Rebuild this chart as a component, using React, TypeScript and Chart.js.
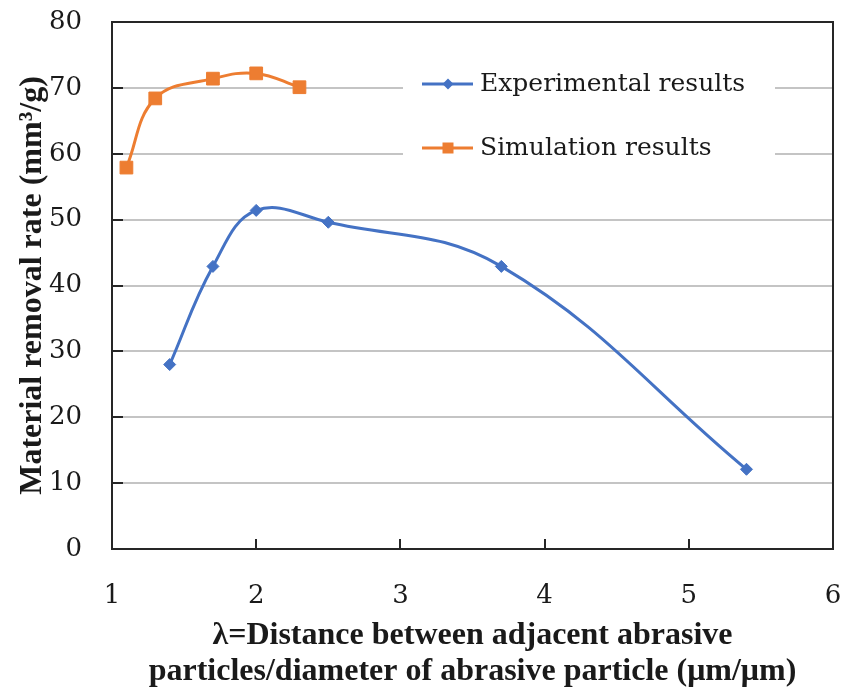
import { useEffect, useRef } from "react";
import { Chart, registerables } from "chart.js";
Chart.register(...registerables);

const expX = [1.4, 1.7, 2.0, 2.5, 3.7, 5.4];
const expY = [28.0, 42.9, 51.4, 49.6, 42.9, 12.1];
const simX = [1.1, 1.3, 1.7, 2.0, 2.3];
const simY = [57.9, 68.4, 71.4, 72.2, 70.1];
const seriesNames = ["Experimental results", "Simulation results"];
const xTickValues = [1, 2, 3, 4, 5, 6];
const yTickValues = [0, 10, 20, 30, 40, 50, 60, 70, 80];
const yTitle = "Material removal rate (mm³/g)";
const xTitle = ["λ=Distance between adjacent abrasive", "particles/diameter of abrasive particle (μm/μm)"];

const BLUE = "#4472C4";
const ORANGE = "#ED7D31";
const AXIS = "#262626";
const TEXT = "#1a1a1a";
const FONT = "'Liberation Serif', 'Times New Roman', serif";
const FONT2 = "'DejaVu Serif', serif";

const framePlugin = {
  id: "frame",
  afterDatasetsDraw(chart: any) {
    const { ctx, chartArea: a, scales } = chart;
    ctx.save();
    ctx.strokeStyle = AXIS;
    ctx.lineWidth = 2;
    ctx.beginPath();
    ctx.moveTo(a.left, a.top);
    ctx.lineTo(a.right, a.top);
    ctx.lineTo(a.right, a.bottom);
    ctx.stroke();
    ctx.beginPath();
    xTickValues.slice(1, -1).forEach((v) => {
      const px = Math.round(scales.x.getPixelForValue(v));
      ctx.moveTo(px, a.bottom);
      ctx.lineTo(px, a.bottom - 10);
    });
    yTickValues.slice(1, -1).forEach((v) => {
      const py = Math.round(scales.y.getPixelForValue(v));
      ctx.moveTo(a.left, py);
      ctx.lineTo(a.left + 11, py);
    });
    ctx.stroke();

    // legend
    const bx0 = a.left + 291;
    const bx1 = a.left + 663;
    ctx.fillStyle = "#ffffff";
    ctx.fillRect(bx0, a.top + 36, bx1 - bx0, 120);
    const rows = [a.top + 62, a.top + 126];
    const colors = [BLUE, ORANGE];
    rows.forEach((ry, i) => {
      ctx.strokeStyle = colors[i];
      ctx.fillStyle = colors[i];
      ctx.lineWidth = 3;
      ctx.beginPath();
      ctx.moveTo(a.left + 310, ry);
      ctx.lineTo(a.left + 361, ry);
      ctx.stroke();
      const cx = a.left + 336;
      ctx.beginPath();
      if (i === 0) {
        ctx.moveTo(cx, ry - 5.5);
        ctx.lineTo(cx + 5.5, ry);
        ctx.lineTo(cx, ry + 5.5);
        ctx.lineTo(cx - 5.5, ry);
        ctx.closePath();
      } else {
        ctx.rect(cx - 5.5, ry - 5.5, 11, 11);
      }
      ctx.fill();
      ctx.fillStyle = TEXT;
      ctx.font = `25px ${FONT2}`;
      ctx.textBaseline = "middle";
      ctx.textAlign = "left";
      ctx.fillText(seriesNames[i], a.left + 368, ry);
    });
    ctx.restore();
  },
};

export default function App() {
  const ref = useRef<HTMLCanvasElement>(null);
  useEffect(() => {
    if (!ref.current) return;
    const chart = new Chart(ref.current, {
      type: "line",
      data: {
        datasets: [
          {
            label: seriesNames[0],
            data: expX.map((x, i) => ({ x, y: expY[i] })),
            borderColor: BLUE,
            backgroundColor: BLUE,
            borderWidth: 3,
            pointStyle: "rectRot",
            pointRadius: 6,
            pointBorderWidth: 1,
            tension: 0.4,
          },
          {
            label: seriesNames[1],
            data: simX.map((x, i) => ({ x, y: simY[i] })),
            borderColor: ORANGE,
            backgroundColor: ORANGE,
            borderWidth: 3,
            pointStyle: "rect",
            pointRadius: 9,
            pointBorderWidth: 1,
            tension: 0.4,
          },
        ],
      },
      options: {
        animation: false,
        responsive: false,
        layout: { padding: { left: 0, right: 12, top: 22, bottom: 0 } },
        plugins: { legend: { display: false }, tooltip: { enabled: false } },
        scales: {
          x: {
            type: "linear",
            min: 1,
            max: 6,
            afterBuildTicks: (s: any) => {
              s.ticks = xTickValues.map((v) => ({ value: v }));
            },
            afterFit: (s: any) => {
              s.height = 142;
              s.paddingLeft = 0;
              s.paddingRight = 0;
            },
            grid: { display: false, drawTicks: false },
            border: { display: true, color: AXIS, width: 2 },
            ticks: { color: TEXT, font: { family: FONT2, size: 26 }, padding: 32 },
            title: {
              display: true,
              text: xTitle,
              color: TEXT,
              font: { family: FONT, size: 32, weight: "bold", lineHeight: 1.1 },
              padding: { top: 0, bottom: 2 },
            },
          },
          y: {
            type: "linear",
            min: 0,
            max: 80,
            afterBuildTicks: (s: any) => {
              s.ticks = yTickValues.map((v) => ({ value: v }));
            },
            afterFit: (s: any) => {
              s.width = 112;
              s.paddingTop = 0;
              s.paddingBottom = 0;
            },
            grid: { color: "#c4c4c4", lineWidth: 2, drawTicks: false },
            border: { display: true, color: AXIS, width: 2 },
            ticks: { color: TEXT, font: { family: FONT2, size: 26 }, padding: 30 },
            title: {
              display: true,
              text: yTitle,
              color: TEXT,
              font: { family: FONT, size: 32, weight: "bold", lineHeight: 1.2 },
              padding: { top: 14, bottom: 0 },
            },
          },
        },
      },
      plugins: [framePlugin],
    } as any);
    return () => chart.destroy();
  }, []);
  return (
    <div style={{ position: "absolute", left: 0, top: 0, width: 845, height: 691, background: "#fff" }}>
      <canvas ref={ref} width={845} height={691} />
    </div>
  );
}
